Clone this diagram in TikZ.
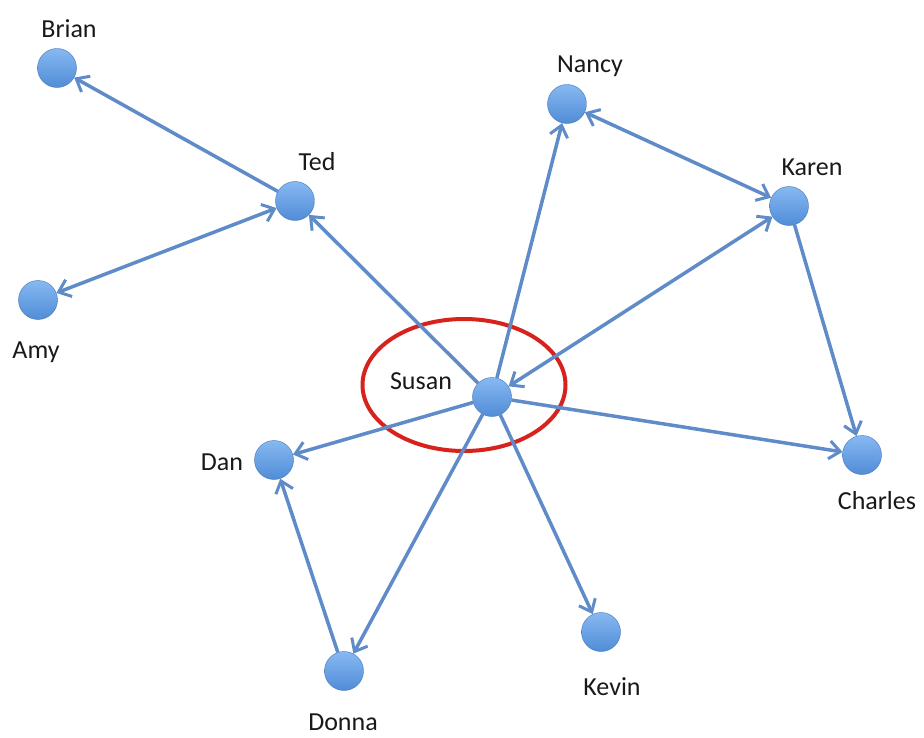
\documentclass[tikz,border=0pt]{standalone}
\usepackage{fontspec}
\setmainfont{Carlito}
\usetikzlibrary{arrows.meta,shapes.geometric}
\definecolor{edgeblue}{RGB}{95,140,200}
\definecolor{balltop}{RGB}{135,185,242}
\definecolor{ballbot}{RGB}{80,140,215}
\definecolor{ringred}{RGB}{215,35,30}
\tikzset{
  person/.style={circle, minimum size=39pt, inner sep=0pt, top color=balltop, bottom color=ballbot, draw=ballbot!85!black, line width=0.4pt},
  lbl/.style={font=\fontsize{26}{28}\selectfont, text=black!90, inner sep=0pt},
  link/.style={draw=edgeblue, line width=3.5pt, -{Straight Barb[length=11pt,width=18pt,line width=3pt]}},
  blink/.style={draw=edgeblue, line width=3.5pt, {Straight Barb[length=11pt,width=18pt,line width=3pt]}-{Straight Barb[length=11pt,width=18pt,line width=3pt]}}
}
\begin{document}
\begin{tikzpicture}[x=1pt,y=-1pt]
\useasboundingbox (0,0) rectangle (924,738);
% red ring
\node[draw=ringred, line width=4pt, ellipse, minimum width=203pt, minimum height=132pt, inner sep=0pt] (ring) at (464,385) {};
% nodes
\node[person] (brian) at (57,68) {};
\node[person] (ted) at (295,201) {};
\node[person] (amy) at (38,300) {};
\node[person] (nancy) at (567,104) {};
\node[person] (karen) at (789,206) {};
\node[person] (susan) at (492,397) {};
\node[person] (dan) at (274,460) {};
\node[person] (charles) at (862,455) {};
\node[person] (kevin) at (601,632) {};
\node[person] (donna) at (344,671) {};
% labels
\node[lbl] (lbrian) at (69,29) {Brian};
\node[lbl] (lted) at (317,162) {Ted};
\node[lbl] (lamy) at (36,352) {Amy};
\node[lbl] (lnancy) at (590,66) {Nancy};
\node[lbl] (lkaren) at (812,167) {Karen};
\node[lbl] (lsusan) at (421,381) {Susan};
\node[lbl] (ldan) at (222,462) {Dan};
\node[lbl] (lcharles) at (877,501) {Charles};
\node[lbl] (lkevin) at (612,687) {Kevin};
\node[lbl] (ldonna) at (343,722) {Donna};
% edges
\draw[link] (ted) -- (brian);
\draw[blink] (amy) -- (ted);
\draw[link] (susan) -- (ted);
\draw[link] (susan) -- (nancy);
\draw[blink] (nancy) -- (karen);
\draw[blink] (susan) -- (karen);
\draw[link] (karen) -- (charles);
\draw[link] (susan) -- (charles);
\draw[link] (susan) -- (dan);
\draw[link] (susan) -- (donna);
\draw[link] (donna) -- (dan);
\draw[link] (susan) -- (kevin);
\end{tikzpicture}
\end{document}
